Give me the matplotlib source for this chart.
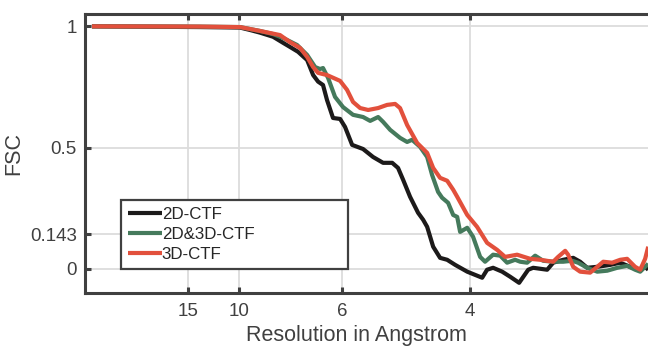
import matplotlib
matplotlib.use("Agg")
import matplotlib.pyplot as plt

plt.rcParams['font.family'] = ['Liberation Sans', 'DejaVu Sans']

# spatial frequency (1/Angstrom) and FSC values
freq_2d = [0.0045, 0.0747, 0.1006, 0.1071, 0.1136, 0.1221, 0.1286, 0.1331, 0.1383, 0.1442,
           0.1481, 0.1513, 0.1545, 0.1571, 0.1610, 0.1656, 0.1688, 0.1734, 0.1805, 0.1870,
           0.1935, 0.1994, 0.2032, 0.2065, 0.2110, 0.2162, 0.2195, 0.2221, 0.2260, 0.2305,
           0.2351, 0.2403, 0.2481, 0.2578, 0.2610, 0.2649, 0.2708, 0.2760, 0.2818, 0.2877,
           0.2909, 0.3000, 0.3039, 0.3104, 0.3169, 0.3214, 0.3260, 0.3325, 0.3409, 0.3474,
           0.3539, 0.3591, 0.3636, 0.3656]
fsc_2d = [1.000, 0.997, 0.995, 0.985, 0.974, 0.957, 0.932, 0.915, 0.895, 0.861,
          0.799, 0.772, 0.758, 0.696, 0.622, 0.618, 0.585, 0.511, 0.494, 0.461,
          0.437, 0.437, 0.416, 0.367, 0.297, 0.231, 0.202, 0.173, 0.091, 0.045,
          0.037, 0.016, -0.012, -0.037, -0.004, 0.004, -0.012, -0.033, -0.058, -0.004,
          0.004, -0.004, 0.025, 0.037, 0.045, 0.029, 0.004, 0.008, 0.016, 0.025,
          0.008, -0.004, 0.008, -0.004]

freq_2d3d = [0.0045, 0.0747, 0.1006, 0.1136, 0.1221, 0.1286, 0.1377, 0.1442, 0.1494, 0.1526,
             0.1545, 0.1578, 0.1623, 0.1675, 0.1740, 0.1805, 0.1851, 0.1903, 0.1935, 0.1981,
             0.2045, 0.2091, 0.2123, 0.2175, 0.2221, 0.2253, 0.2292, 0.2318, 0.2357, 0.2390,
             0.2416, 0.2435, 0.2481, 0.2519, 0.2565, 0.2597, 0.2649, 0.2695, 0.2740, 0.2792,
             0.2825, 0.2870, 0.2922, 0.2974, 0.3039, 0.3104, 0.3162, 0.3201, 0.3260, 0.3325,
             0.3390, 0.3455, 0.3519, 0.3571, 0.3604, 0.3649, 0.3656]
fsc_2d3d = [1.000, 0.999, 0.997, 0.981, 0.968, 0.952, 0.923, 0.882, 0.832, 0.824,
            0.828, 0.787, 0.709, 0.667, 0.635, 0.626, 0.610, 0.626, 0.606, 0.573,
            0.540, 0.523, 0.532, 0.503, 0.461, 0.387, 0.317, 0.293, 0.272, 0.222,
            0.214, 0.152, 0.169, 0.132, 0.049, 0.029, 0.058, 0.054, 0.025, 0.037,
            0.029, 0.025, 0.054, 0.033, 0.029, 0.029, 0.033, 0.025, 0.004, -0.012,
            -0.008, 0.004, 0.012, -0.004, -0.012, 0.016, 0.021]

freq_3d = [0.0045, 0.0747, 0.1006, 0.1136, 0.1266, 0.1331, 0.1396, 0.1442, 0.1481, 0.1513,
           0.1571, 0.1656, 0.1701, 0.1740, 0.1786, 0.1838, 0.1903, 0.1961, 0.2013, 0.2045,
           0.2091, 0.2156, 0.2221, 0.2260, 0.2305, 0.2351, 0.2390, 0.2416, 0.2481, 0.2545,
           0.2610, 0.2675, 0.2727, 0.2805, 0.2890, 0.2955, 0.3039, 0.3071, 0.3117, 0.3136,
           0.3169, 0.3214, 0.3279, 0.3325, 0.3364, 0.3422, 0.3474, 0.3519, 0.3571, 0.3604,
           0.3636, 0.3656]
fsc_3d = [1.000, 0.999, 0.997, 0.981, 0.964, 0.935, 0.911, 0.874, 0.832, 0.808,
          0.799, 0.775, 0.738, 0.688, 0.663, 0.655, 0.663, 0.676, 0.680, 0.663,
          0.593, 0.519, 0.478, 0.416, 0.375, 0.363, 0.326, 0.297, 0.222, 0.173,
          0.107, 0.078, 0.049, 0.058, 0.041, 0.037, 0.029, 0.049, 0.074, 0.058,
          0.008, -0.012, -0.016, 0.008, 0.029, 0.025, 0.037, 0.041, 0.008, -0.004,
          0.041, 0.091]

labels = ['2D-CTF', '2D&3D-CTF', '3D-CTF']
colors = ['#1c1a1a', '#457a5c', '#e2503c']

xtick_res = [15, 10, 6, 4]
ytick_vals = [0, 0.143, 0.5, 1]
ytick_labels = ['0', '0.143', '0.5', '1']

spine_c = '#404040'

fig = plt.figure(figsize=(6.48, 3.48), dpi=100)
ax = fig.add_axes([85 / 648, (348 - 293) / 348, 570 / 648, 279.5 / 348])

for xs, ys, lab, c in zip([freq_2d, freq_2d3d, freq_3d], [fsc_2d, fsc_2d3d, fsc_3d], labels, colors):
    ax.plot(xs, ys, color=c, lw=3.0, label=lab, solid_joinstyle='round', solid_capstyle='butt')

ax.set_xlim(0, 0.37)
ax.set_ylim(-0.1, 1.053)
ax.set_xticks([1.0 / r for r in xtick_res])
ax.set_xticklabels([str(r) for r in xtick_res])
ax.set_yticks(ytick_vals)
ax.set_yticklabels(ytick_labels)
ax.grid(True, color='#dcdcdc', lw=1.3)
ax.set_axisbelow(True)

for s in ax.spines.values():
    s.set_color(spine_c)
    s.set_linewidth(2.2)
ax.tick_params(direction='in', length=4.5, width=2.2, color=spine_c, labelcolor='#404040',
               labelsize=13.5, top=True, right=False, pad=7)
ax.tick_params(axis='y', pad=6)

ax.set_xlabel('Resolution in Angstrom', fontsize=15.5, color='#404040')
ax.set_ylabel('FSC', fontsize=15.5, color='#404040')
ax.xaxis.set_label_coords(0.477, -0.115)
ax.yaxis.set_label_coords(-0.107, 0.5)

leg = ax.legend(loc='lower left', bbox_to_anchor=(0.0632, 0.0859, 0.398, 0.254), mode='expand',
                borderaxespad=0, fontsize=12.2, handlelength=2.0, handletextpad=0.0,
                labelspacing=0.3, borderpad=0.4, fancybox=False, framealpha=1,
                edgecolor=spine_c)
leg.get_frame().set_linewidth(1.6)
for t in leg.get_texts():
    t.set_color('#262626')

fig.savefig('out.png', dpi=100)
